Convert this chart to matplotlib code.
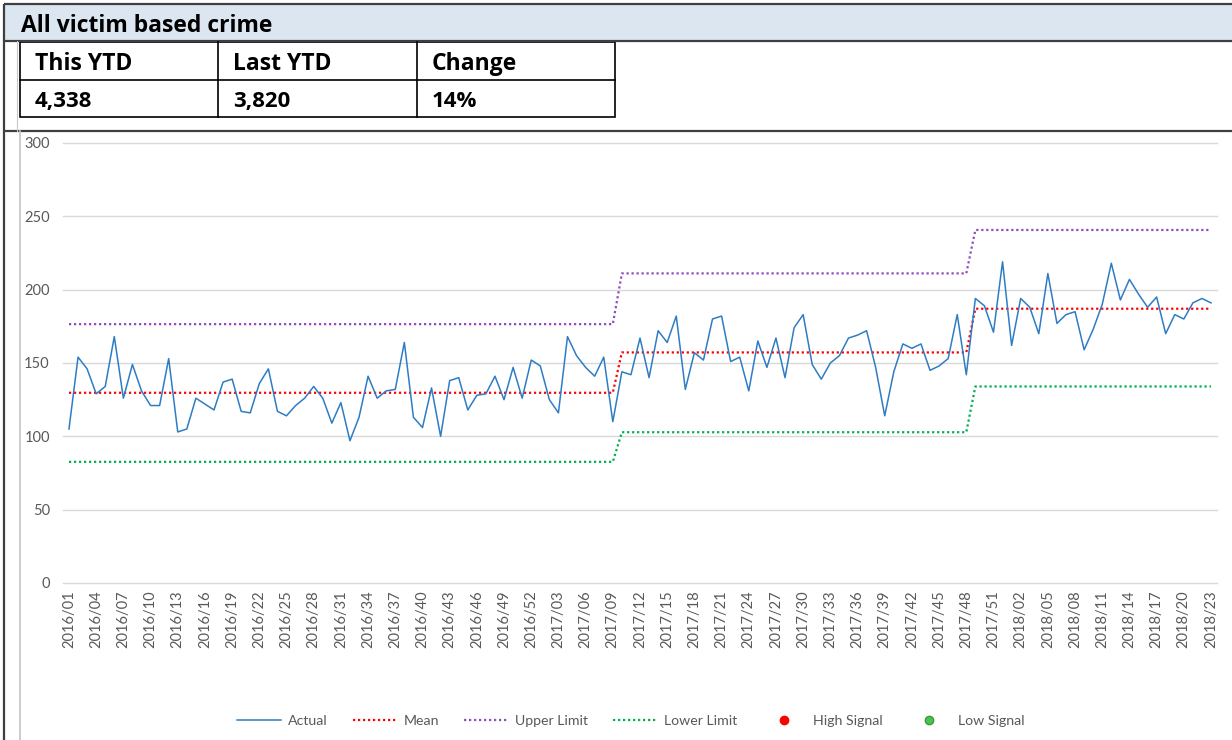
import numpy as np
import matplotlib
matplotlib.use("Agg")
import matplotlib.pyplot as plt
from matplotlib.lines import Line2D
from matplotlib.patches import Rectangle

plt.rcParams['font.family'] = ['Lato', 'DejaVu Sans']

# ---------------- data ----------------
title = "All victim based crime"
summary_headers = ["This YTD", "Last YTD", "Change"]
summary_values = ["4,338", "3,820", "14%"]

weeks = ([f"2016/{w:02d}" for w in range(1, 53)]
         + [f"2017/{w:02d}" for w in range(1, 53)]
         + [f"2018/{w:02d}" for w in range(1, 24)])

actual = [105, 154, 146, 129, 134, 168, 126, 149, 131, 121,
          121, 153, 103, 105, 126, 122, 118, 137, 139, 117,
          116, 136, 146, 117, 114, 121, 126, 134, 126, 109,
          123, 97, 113, 141, 126, 131, 132, 164, 113, 106,
          133, 100, 138, 140, 118, 128, 129, 141, 125, 147,
          126, 152, 148, 125, 116, 168, 155, 147, 141, 154,
          110, 144, 142, 167, 140, 172, 164, 182, 132, 157,
          152, 180, 182, 151, 154, 131, 165, 147, 167, 140,
          174, 183, 149, 139, 150, 155, 167, 169, 172, 147,
          114, 144, 163, 160, 163, 145, 148, 153, 183, 142,
          194, 189, 171, 219, 162, 194, 188, 170, 211, 177,
          183, 185, 159, 173, 190, 218, 193, 207, 197, 188,
          195, 170, 183, 180, 191, 194, 191]

period_starts = ["2016/01", "2017/10", "2017/49"]
mean_levels = [129.7, 157.2, 187.0]
upper_levels = [176.5, 211.1, 240.7]
lower_levels = [82.6, 102.8, 134.0]

high_signal_idx = []   # no high signals in this period
low_signal_idx = []    # no low signals in this period

y_ticks = [0, 50, 100, 150, 200, 250, 300]
label_step = 3

# ---------------- derived series ----------------
bounds = [weeks.index(p) for p in period_starts] + [len(weeks)]
lengths = np.diff(bounds)
mean_line = np.repeat(mean_levels, lengths)
upper_line = np.repeat(upper_levels, lengths)
lower_line = np.repeat(lower_levels, lengths)
x = np.arange(len(weeks))
actual_arr = np.array(actual, dtype=float)

# ---------------- figure ----------------
W, H = 1232, 740
fig = plt.figure(figsize=(W / 100, H / 100), dpi=100)
fig.patch.set_facecolor('white')

bg = fig.add_axes([0, 0, 1, 1], zorder=0)
bg.set_xlim(0, W)
bg.set_ylim(H, 0)
bg.axis('off')

dark = '#3f3f3f'
head_font = ['Open Sans', 'DejaVu Sans']
# title band
bg.add_patch(Rectangle((4, 4), W - 4, 37, facecolor='#dce6f1', edgecolor='none'))
bg.plot([4, W], [4, 4], color=dark, lw=1.6, solid_capstyle='butt')
bg.plot([4, W], [41, 41], color=dark, lw=1.6, solid_capstyle='butt')
bg.plot([4, W], [131, 131], color=dark, lw=1.6, solid_capstyle='butt')
bg.plot([4, 4], [4, H], color=dark, lw=1.6, solid_capstyle='butt')
bg.plot([17, 17], [41, 131], color='#c8c8c8', lw=0.8)
bg.plot([20, 20], [131, H], color='#c4c4c4', lw=1.2)

bg.text(21, 32, title, fontsize=16.5, weight='bold', family=head_font,
        color='black', va='baseline', ha='left')

# summary table
tx0, tx1, ty0, ty1, tym = 20, 615, 42, 117, 80
col_x = [20, 218, 417, 615]
bg.add_patch(Rectangle((tx0, ty0), tx1 - tx0, ty1 - ty0, fill=False, edgecolor='black', lw=1.2))
bg.plot([tx0, tx1], [tym, tym], color='black', lw=1.2)
for cx in col_x[1:-1]:
    bg.plot([cx, cx], [ty0, ty1], color='black', lw=1.2)
for i, (hd, val) in enumerate(zip(summary_headers, summary_values)):
    bg.text(col_x[i] + 15, 70, hd, fontsize=16.5, weight='bold', family=head_font,
            va='baseline', ha='left')
    bg.text(col_x[i] + 15, 107, val, fontsize=16, weight='bold', family=head_font,
            va='baseline', ha='left')

# ---------------- chart ----------------
ax = fig.add_axes([63 / W, 1 - 583 / H, (1217 - 63) / W, (583 - 143) / H], zorder=1)
ax.patch.set_alpha(0)

dot = (1, 1.25)
ax.plot(x, mean_line, color='#ff0000', lw=1.6, dashes=dot, label='Mean', zorder=2)
ax.plot(x, upper_line, color='#8e4cc0', lw=1.6, dashes=dot, label='Upper Limit', zorder=2)
ax.plot(x, lower_line, color='#00b050', lw=1.6, dashes=dot, label='Lower Limit', zorder=2)
ax.plot(x, actual_arr, color='#2e7cc4', lw=1.1, label='Actual', zorder=3)
ax.scatter(np.array(high_signal_idx, dtype=int), actual_arr[np.array(high_signal_idx, dtype=int)],
           color='#ff0000', s=30, zorder=4)
ax.scatter(np.array(low_signal_idx, dtype=int), actual_arr[np.array(low_signal_idx, dtype=int)],
           color='#4fc14f', s=30, zorder=4)

ax.set_xlim(-0.66, len(weeks) - 1 + 0.66)
ax.set_ylim(0, 300)
ax.set_yticks(y_ticks)
ax.set_xticks(x[::label_step])
ax.set_xticklabels(weeks[::label_step], rotation=90)
ax.grid(axis='y', color='#d9d9d9', lw=1.0)
ax.set_axisbelow(True)
for gl in ax.get_ygridlines():
    gl.set_clip_on(False)
for s in ax.spines.values():
    s.set_visible(False)
ax.tick_params(axis='both', length=0, labelsize=10.5, colors='#595959')
ax.tick_params(axis='y', pad=9.5)
ax.tick_params(axis='x', pad=5.5)

# legend
handles = [
    Line2D([], [], color='#2e7cc4', lw=1.1),
    Line2D([], [], color='#ff0000', lw=1.6, dashes=dot),
    Line2D([], [], color='#8e4cc0', lw=1.6, dashes=dot),
    Line2D([], [], color='#00b050', lw=1.6, dashes=dot),
    Line2D([], [], color='#ff0000', marker='o', ls='none', markersize=6),
    Line2D([], [], color='#4fc14f', marker='o', ls='none', markersize=6, markeredgecolor='#3a9a3a'),
]
labels = ['Actual', 'Mean', 'Upper Limit', 'Lower Limit', 'High Signal', 'Low Signal']
fig.legend(handles, labels, loc='center', bbox_to_anchor=(631 / W, 1 - 721 / H), ncol=6,
           frameon=False, fontsize=10.2, labelcolor='#595959', handlelength=3.1,
           handletextpad=0.5, columnspacing=1.75)

fig.savefig('out.png', dpi=100, facecolor='white')
